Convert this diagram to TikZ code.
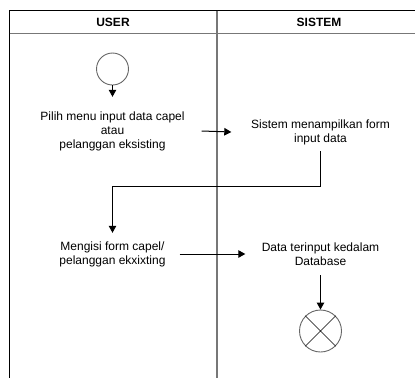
\documentclass[tikz,border=0pt]{standalone}
\usepackage{fontspec}
\setmainfont{Liberation Sans}
\usetikzlibrary{arrows.meta}
\definecolor{lanegrey}{HTML}{777777}
\definecolor{nodegrey}{HTML}{666666}
\begin{document}
\begin{tikzpicture}[x=1pt,y=-1pt,
  every node/.style={font=\fontsize{12}{14}\selectfont},
  act/.style={align=center,inner sep=0pt},
  flow/.style={draw=black,line width=1pt,-{Triangle[length=7pt,width=7.5pt]}},
  frame/.style={draw=black,line width=1.1pt},
  lane/.style={draw=lanegrey,line width=2pt},
  hdr/.style={font=\fontsize{12}{14}\selectfont\bfseries}]
\useasboundingbox (0,0) rectangle (415,378);
% swimlane frame
\draw[frame] (415,10.5) -- (9.5,10.5) -- (9.5,378);
\draw[draw=lanegrey,line width=1pt] (9.5,33.5) -- (415,33.5);
\draw[lane] (216.5,10.5) -- (216.5,378);
\node[hdr] (huser) at (113,22) {USER};
\node[hdr] (hsys) at (319,22) {SISTEM};
% start
\node[circle,draw=nodegrey,line width=0.9pt,minimum size=32pt,inner sep=0pt] (start) at (112.5,69) {};
% actions
\node[act,minimum width=178pt,minimum height=68pt] (pilih) at (112.5,131)
  {Pilih menu input data capel\\atau\\pelanggan eksisting};
\node[act,minimum width=178pt,minimum height=38pt] (tampil) at (320.5,132)
  {Sistem menampilkan form\\input data};
\node[act,minimum width=134pt,minimum height=42pt] (isi) at (112.5,254)
  {Mengisi form capel/\\pelanggan ekxixting};
\node[act,minimum width=150pt,minimum height=42pt] (simpan) at (320.5,254)
  {Data terinput kedalam\\Database};
% end
\node[circle,draw=nodegrey,line width=0.9pt,minimum size=42pt,inner sep=0pt] (stop) at (320.5,331) {};
\draw[line width=0.6pt] (stop.north west) -- (stop.south east)
  (stop.north east) -- (stop.south west);
% flows
\draw[flow] (start.south) -- (pilih.north);
\draw[flow] (pilih.east) -- (tampil.west);
\draw[flow] (tampil.south) -- ++(0,35) -| (isi.north);
\draw[flow] (isi.east) -- (simpan.west);
\draw[flow] (simpan.south) -- (stop.north);
\end{tikzpicture}
\end{document}
